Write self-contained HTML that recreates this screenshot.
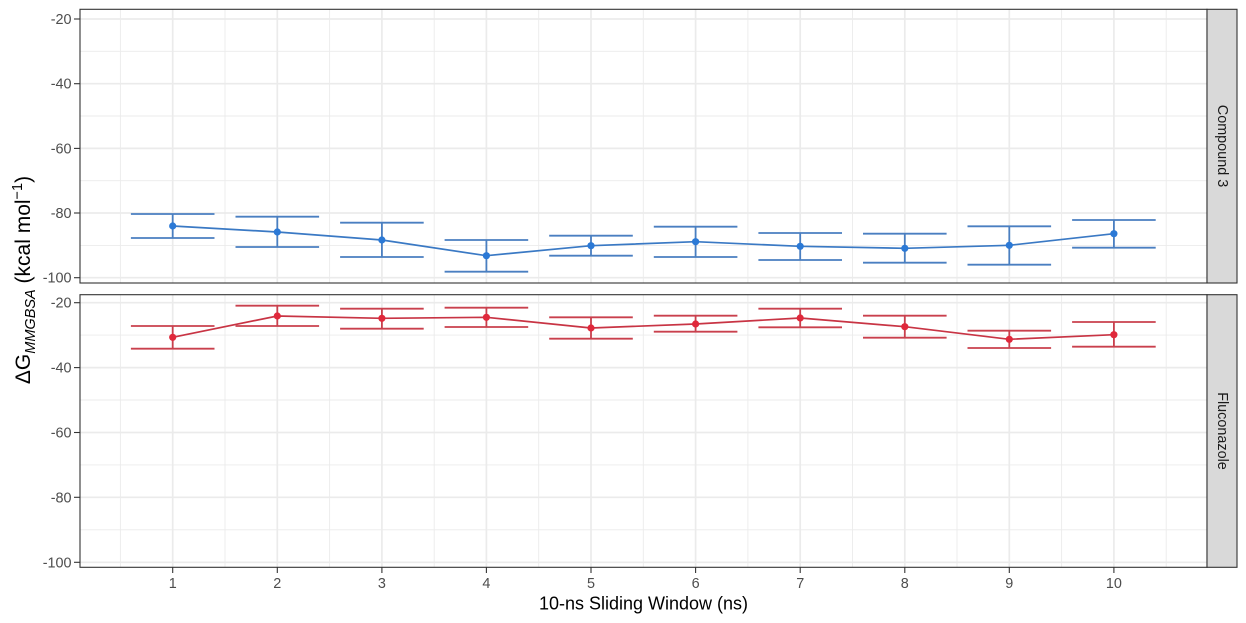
<!DOCTYPE html>
<html>
<head>
<meta charset="utf-8">
<style>
html,body{margin:0;padding:0;background:#fff;}
svg{display:block;}
text{font-family:"Liberation Sans","DejaVu Sans",sans-serif;}
</style>
</head>
<body>
<svg width="1246" height="623" viewBox="0 0 1246 623" xmlns="http://www.w3.org/2000/svg">
<rect x="0" y="0" width="1246" height="623" fill="#fff"/>

<!-- ===== TOP PANEL ===== -->
<g>
  <rect x="80" y="9.3" width="1127" height="273.7" fill="#fff"/>
  <g stroke="#ebebeb" stroke-width="0.9">
    <line x1="80" x2="1207" y1="51.3" y2="51.3"/>
    <line x1="80" x2="1207" y1="116.0" y2="116.0"/>
    <line x1="80" x2="1207" y1="180.7" y2="180.7"/>
    <line x1="80" x2="1207" y1="245.4" y2="245.4"/>
    <line y1="9.3" y2="283" x1="120.4" x2="120.4"/>
    <line y1="9.3" y2="283" x1="225.0" x2="225.0"/>
    <line y1="9.3" y2="283" x1="329.6" x2="329.6"/>
    <line y1="9.3" y2="283" x1="434.2" x2="434.2"/>
    <line y1="9.3" y2="283" x1="538.7" x2="538.7"/>
    <line y1="9.3" y2="283" x1="643.3" x2="643.3"/>
    <line y1="9.3" y2="283" x1="747.9" x2="747.9"/>
    <line y1="9.3" y2="283" x1="852.5" x2="852.5"/>
    <line y1="9.3" y2="283" x1="957.0" x2="957.0"/>
    <line y1="9.3" y2="283" x1="1061.6" x2="1061.6"/>
    <line y1="9.3" y2="283" x1="1166.2" x2="1166.2"/>
  </g>
  <g stroke="#ebebeb" stroke-width="1.7">
    <line x1="80" x2="1207" y1="19" y2="19"/>
    <line x1="80" x2="1207" y1="83.7" y2="83.7"/>
    <line x1="80" x2="1207" y1="148.4" y2="148.4"/>
    <line x1="80" x2="1207" y1="213.0" y2="213.0"/>
    <line x1="80" x2="1207" y1="277.7" y2="277.7"/>
    <line y1="9.3" y2="283" x1="172.7" x2="172.7"/>
    <line y1="9.3" y2="283" x1="277.3" x2="277.3"/>
    <line y1="9.3" y2="283" x1="381.9" x2="381.9"/>
    <line y1="9.3" y2="283" x1="486.4" x2="486.4"/>
    <line y1="9.3" y2="283" x1="591.0" x2="591.0"/>
    <line y1="9.3" y2="283" x1="695.6" x2="695.6"/>
    <line y1="9.3" y2="283" x1="800.2" x2="800.2"/>
    <line y1="9.3" y2="283" x1="904.8" x2="904.8"/>
    <line y1="9.3" y2="283" x1="1009.3" x2="1009.3"/>
    <line y1="9.3" y2="283" x1="1113.9" x2="1113.9"/>
  </g>
  <g stroke="#4a7fc1" stroke-width="1.8" fill="none">
    <path d="M130.9 214H214.5M130.9 238H214.5M172.7 214V238"/>
    <path d="M235.5 216.7H319.1M235.5 247H319.1M277.3 216.7V247"/>
    <path d="M340.1 222.7H423.7M340.1 257H423.7M381.9 222.7V257"/>
    <path d="M444.6 240H528.2M444.6 271.7H528.2M486.4 240V271.7"/>
    <path d="M549.2 235.7H632.8M549.2 255.7H632.8M591.0 235.7V255.7"/>
    <path d="M653.8 226.7H737.4M653.8 257H737.4M695.6 226.7V257"/>
    <path d="M758.4 233H842.0M758.4 260H842.0M800.2 233V260"/>
    <path d="M863.0 233.7H946.6M863.0 262.7H946.6M904.8 233.7V262.7"/>
    <path d="M967.5 226.3H1051.1M967.5 264.7H1051.1M1009.3 226.3V264.7"/>
    <path d="M1072.1 220H1155.7M1072.1 247.7H1155.7M1113.9 220V247.7"/>
  </g>
  <polyline fill="none" stroke="#3a79c4" stroke-width="1.7" points="172.7,226 277.3,232 381.9,240 486.4,255.7 591.0,245.7 695.6,241.7 800.2,246.3 904.8,248.3 1009.3,245.3 1113.9,233.7"/>
  <g fill="#2b79d6">
    <circle cx="172.7" cy="226" r="3.6"/>
    <circle cx="277.3" cy="232" r="3.6"/>
    <circle cx="381.9" cy="240" r="3.6"/>
    <circle cx="486.4" cy="255.7" r="3.6"/>
    <circle cx="591.0" cy="245.7" r="3.6"/>
    <circle cx="695.6" cy="241.7" r="3.6"/>
    <circle cx="800.2" cy="246.3" r="3.6"/>
    <circle cx="904.8" cy="248.3" r="3.6"/>
    <circle cx="1009.3" cy="245.3" r="3.6"/>
    <circle cx="1113.9" cy="233.7" r="3.6"/>
  </g>
  <rect x="80" y="9.3" width="1127" height="273.7" fill="none" stroke="#333" stroke-width="1.1"/>
  <rect x="1207" y="9.3" width="30" height="273.7" fill="#d9d9d9" stroke="#333" stroke-width="1.1"/>
  <text x="1222" y="146" transform="rotate(90 1222 146)" text-anchor="middle" dominant-baseline="central" font-size="14.4" fill="#1a1a1a">Compound 3</text>
  <g stroke="#333" stroke-width="1.1">
    <line x1="74" x2="80" y1="19" y2="19"/>
    <line x1="74" x2="80" y1="83.7" y2="83.7"/>
    <line x1="74" x2="80" y1="148.4" y2="148.4"/>
    <line x1="74" x2="80" y1="213.0" y2="213.0"/>
    <line x1="74" x2="80" y1="277.7" y2="277.7"/>
  </g>
  <g font-size="14.4" fill="#4d4d4d" text-anchor="end">
    <text x="71.5" y="24">-20</text>
    <text x="71.5" y="88.7">-40</text>
    <text x="71.5" y="153.4">-60</text>
    <text x="71.5" y="218">-80</text>
    <text x="71.5" y="282.7">-100</text>
  </g>
</g>

<!-- ===== BOTTOM PANEL ===== -->
<g>
  <rect x="80" y="294.7" width="1127" height="272.6" fill="#fff"/>
  <g stroke="#ebebeb" stroke-width="0.9">
    <line x1="80" x2="1207" y1="335.1" y2="335.1"/>
    <line x1="80" x2="1207" y1="400.0" y2="400.0"/>
    <line x1="80" x2="1207" y1="464.9" y2="464.9"/>
    <line x1="80" x2="1207" y1="529.8" y2="529.8"/>
    <line y1="294.7" y2="567.3" x1="120.4" x2="120.4"/>
    <line y1="294.7" y2="567.3" x1="225.0" x2="225.0"/>
    <line y1="294.7" y2="567.3" x1="329.6" x2="329.6"/>
    <line y1="294.7" y2="567.3" x1="434.2" x2="434.2"/>
    <line y1="294.7" y2="567.3" x1="538.7" x2="538.7"/>
    <line y1="294.7" y2="567.3" x1="643.3" x2="643.3"/>
    <line y1="294.7" y2="567.3" x1="747.9" x2="747.9"/>
    <line y1="294.7" y2="567.3" x1="852.5" x2="852.5"/>
    <line y1="294.7" y2="567.3" x1="957.0" x2="957.0"/>
    <line y1="294.7" y2="567.3" x1="1061.6" x2="1061.6"/>
    <line y1="294.7" y2="567.3" x1="1166.2" x2="1166.2"/>
  </g>
  <g stroke="#ebebeb" stroke-width="1.7">
    <line x1="80" x2="1207" y1="302.7" y2="302.7"/>
    <line x1="80" x2="1207" y1="367.6" y2="367.6"/>
    <line x1="80" x2="1207" y1="432.5" y2="432.5"/>
    <line x1="80" x2="1207" y1="497.3" y2="497.3"/>
    <line x1="80" x2="1207" y1="562.3" y2="562.3"/>
    <line y1="294.7" y2="567.3" x1="172.7" x2="172.7"/>
    <line y1="294.7" y2="567.3" x1="277.3" x2="277.3"/>
    <line y1="294.7" y2="567.3" x1="381.9" x2="381.9"/>
    <line y1="294.7" y2="567.3" x1="486.4" x2="486.4"/>
    <line y1="294.7" y2="567.3" x1="591.0" x2="591.0"/>
    <line y1="294.7" y2="567.3" x1="695.6" x2="695.6"/>
    <line y1="294.7" y2="567.3" x1="800.2" x2="800.2"/>
    <line y1="294.7" y2="567.3" x1="904.8" x2="904.8"/>
    <line y1="294.7" y2="567.3" x1="1009.3" x2="1009.3"/>
    <line y1="294.7" y2="567.3" x1="1113.9" x2="1113.9"/>
  </g>
  <g stroke="#c9404d" stroke-width="1.8" fill="none">
    <path d="M130.9 326H214.5M130.9 348.7H214.5M172.7 326V348.7"/>
    <path d="M235.5 305.7H319.1M235.5 326H319.1M277.3 305.7V326"/>
    <path d="M340.1 308.7H423.7M340.1 328.7H423.7M381.9 308.7V328.7"/>
    <path d="M444.6 307.7H528.2M444.6 327H528.2M486.4 307.7V327"/>
    <path d="M549.2 317.3H632.8M549.2 338.7H632.8M591.0 317.3V338.7"/>
    <path d="M653.8 315.7H737.4M653.8 331.7H737.4M695.6 315.7V331.7"/>
    <path d="M758.4 308.7H842.0M758.4 327.3H842.0M800.2 308.7V327.3"/>
    <path d="M863.0 315.7H946.6M863.0 337.7H946.6M904.8 315.7V337.7"/>
    <path d="M967.5 330.7H1051.1M967.5 348H1051.1M1009.3 330.7V348"/>
    <path d="M1072.1 322H1155.7M1072.1 346.7H1155.7M1113.9 322V346.7"/>
  </g>
  <polyline fill="none" stroke="#c83444" stroke-width="1.7" points="172.7,337.3 277.3,316 381.9,318.3 486.4,317.3 591.0,328 695.6,324 800.2,318 904.8,326.7 1009.3,339.3 1113.9,334.7"/>
  <g fill="#e0283b">
    <circle cx="172.7" cy="337.3" r="3.6"/>
    <circle cx="277.3" cy="316" r="3.6"/>
    <circle cx="381.9" cy="318.3" r="3.6"/>
    <circle cx="486.4" cy="317.3" r="3.6"/>
    <circle cx="591.0" cy="328" r="3.6"/>
    <circle cx="695.6" cy="324" r="3.6"/>
    <circle cx="800.2" cy="318" r="3.6"/>
    <circle cx="904.8" cy="326.7" r="3.6"/>
    <circle cx="1009.3" cy="339.3" r="3.6"/>
    <circle cx="1113.9" cy="334.7" r="3.6"/>
  </g>
  <rect x="80" y="294.7" width="1127" height="272.6" fill="none" stroke="#333" stroke-width="1.1"/>
  <rect x="1207" y="294.7" width="30" height="272.6" fill="#d9d9d9" stroke="#333" stroke-width="1.1"/>
  <text x="1222" y="431" transform="rotate(90 1222 431)" text-anchor="middle" dominant-baseline="central" font-size="14.4" fill="#1a1a1a">Fluconazole</text>
  <g stroke="#333" stroke-width="1.1">
    <line x1="74" x2="80" y1="302.7" y2="302.7"/>
    <line x1="74" x2="80" y1="367.6" y2="367.6"/>
    <line x1="74" x2="80" y1="432.5" y2="432.5"/>
    <line x1="74" x2="80" y1="497.3" y2="497.3"/>
    <line x1="74" x2="80" y1="562.3" y2="562.3"/>
  </g>
  <g font-size="14.4" fill="#4d4d4d" text-anchor="end">
    <text x="71.5" y="307.7">-20</text>
    <text x="71.5" y="372.6">-40</text>
    <text x="71.5" y="437.5">-60</text>
    <text x="71.5" y="502.3">-80</text>
    <text x="71.5" y="567.3">-100</text>
  </g>
  <g stroke="#333" stroke-width="1.1">
    <line y1="567.3" y2="573" x1="172.7" x2="172.7"/>
    <line y1="567.3" y2="573" x1="277.3" x2="277.3"/>
    <line y1="567.3" y2="573" x1="381.9" x2="381.9"/>
    <line y1="567.3" y2="573" x1="486.4" x2="486.4"/>
    <line y1="567.3" y2="573" x1="591.0" x2="591.0"/>
    <line y1="567.3" y2="573" x1="695.6" x2="695.6"/>
    <line y1="567.3" y2="573" x1="800.2" x2="800.2"/>
    <line y1="567.3" y2="573" x1="904.8" x2="904.8"/>
    <line y1="567.3" y2="573" x1="1009.3" x2="1009.3"/>
    <line y1="567.3" y2="573" x1="1113.9" x2="1113.9"/>
  </g>
  <g font-size="14.4" fill="#4d4d4d" text-anchor="middle">
    <text x="172.7" y="588">1</text>
    <text x="277.3" y="588">2</text>
    <text x="381.9" y="588">3</text>
    <text x="486.4" y="588">4</text>
    <text x="591.0" y="588">5</text>
    <text x="695.6" y="588">6</text>
    <text x="800.2" y="588">7</text>
    <text x="904.8" y="588">8</text>
    <text x="1009.3" y="588">9</text>
    <text x="1113.9" y="588">10</text>
  </g>
</g>

<text x="643.5" y="609.5" text-anchor="middle" font-size="18" fill="#000">10-ns Sliding Window (ns)</text>
<text x="30" y="280" transform="rotate(-90 30 280)" text-anchor="middle" font-size="21" fill="#000">ΔG<tspan font-size="14.5" font-style="italic" dy="5">MMGBSA</tspan><tspan dy="-5"> (kcal mol</tspan><tspan font-size="14.5" dy="-8">−1</tspan><tspan dy="8">)</tspan></text>
</svg>
</body>
</html>
